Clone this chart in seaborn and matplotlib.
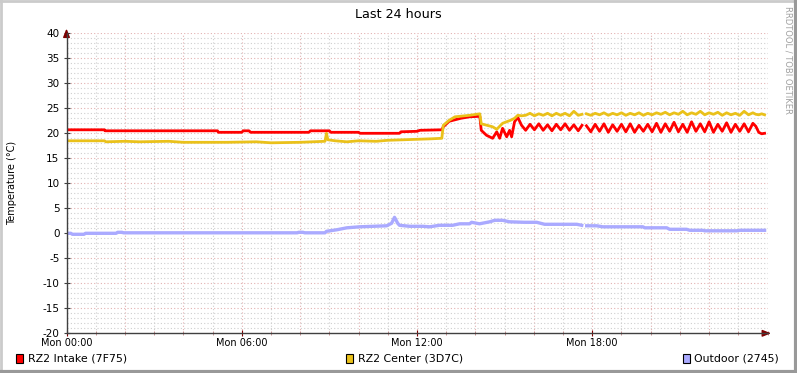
import matplotlib
matplotlib.use('Agg')
import matplotlib.pyplot as plt
import matplotlib.ticker as mticker
from matplotlib.patches import Rectangle
from matplotlib.lines import Line2D
import seaborn as sns
import numpy as np
import pandas as pd

# hours since Mon 00:00 (nan = gap in the data)
intake_hours = [0, 1.3, 1.32, 5.17, 5.2, 6.0, 6.05, 6.25, 6.3, 8.3, 8.35, 9.0, 9.05, 10.0, 10.05,
                11.4, 11.45, 12.0, 12.1, 12.85, 12.9, 13.1, 13.5, 13.8, 14.15, 14.2, 14.38, 14.59,
                14.73, 14.83, 14.93, 15.07, 15.17, 15.24, 15.34, 15.45, 15.58,
                15.72, 15.87, 16.02, 16.17, 16.32, 16.47, 16.62, 16.77, 16.92, 17.07, 17.22, 17.37,
                17.52, 17.65, 17.72,
                17.8, 17.95, 18.1, 18.25, 18.4, 18.55, 18.7, 18.85, 19.0, 19.15, 19.3, 19.45, 19.6,
                19.75, 19.9, 20.05, 20.2, 20.35, 20.5, 20.65, 20.8, 20.95, 21.1, 21.25, 21.4, 21.55,
                21.7, 21.85, 22.0, 22.15, 22.3, 22.45, 22.6, 22.75, 22.9, 23.05, 23.2, 23.35, 23.5,
                23.6, 23.7, 23.8, 23.9]
intake_temp = [20.7, 20.7, 20.5, 20.5, 20.2, 20.2, 20.5, 20.5, 20.2, 20.2, 20.5, 20.5, 20.2, 20.2, 20.0,
               20.0, 20.3, 20.4, 20.6, 20.7, 21.3, 22.4, 23.0, 23.3, 23.4, 20.6, 19.6, 19.0,
               20.3, 19.0, 21.0, 19.3, 20.6, 19.3, 22.3, 23.2, 21.6,
               20.6, 21.8, 20.7, 21.9, 20.6, 21.7, 20.5, 21.8, 20.7, 21.9, 20.6, 21.7,
               20.5, 21.6, np.nan,
               21.5, 20.3, 21.8, 20.4, 21.9, 20.2, 21.7, 20.4, 21.8, 20.3, 21.9, 20.2, 21.6,
               20.4, 21.8, 20.3, 22.0, 20.2, 21.9, 20.4, 22.2, 20.3, 21.8, 20.2, 22.3, 20.4,
               21.9, 20.3, 22.3, 20.2, 21.8, 20.4, 22.1, 20.2, 21.8, 20.4, 21.9, 20.3, 22.0,
               21.4, 20.2, 19.9, 20.0]

center_hours = [0, 1.3, 1.35, 2.0, 2.5, 3.5, 4.0, 5.5, 6.5, 7.0, 8.0, 8.85, 8.9, 8.95, 9.2, 9.6,
                10.0, 10.6, 11.0, 11.5, 12.0, 12.5, 12.85, 12.9, 13.1, 13.3, 13.8, 14.15, 14.2,
                14.59, 14.73, 14.93, 15.2, 15.34, 15.45, 15.58,
                15.72, 15.87, 16.02, 16.17, 16.32, 16.47, 16.62, 16.77, 16.92, 17.07, 17.22, 17.37,
                17.52, 17.65, 17.72,
                17.8, 17.95, 18.1, 18.25, 18.4, 18.55, 18.7, 18.85, 19.0, 19.15, 19.3, 19.45, 19.6,
                19.75, 19.9, 20.05, 20.2, 20.35, 20.5, 20.65, 20.8, 20.95, 21.1, 21.25, 21.4, 21.55,
                21.7, 21.85, 22.0, 22.15, 22.3, 22.45, 22.6, 22.75, 22.9, 23.05, 23.2, 23.35, 23.5,
                23.6, 23.7, 23.8, 23.9]
center_temp = [18.5, 18.5, 18.3, 18.4, 18.3, 18.4, 18.2, 18.2, 18.3, 18.1, 18.2, 18.4, 20.0, 18.7, 18.5, 18.3,
               18.5, 18.4, 18.6, 18.7, 18.8, 18.9, 19.0, 21.6, 22.6, 23.3, 23.6, 23.9, 21.9,
               21.3, 20.8, 22.0, 22.6, 23.0, 23.6, 23.5,
               23.6, 24.0, 23.5, 23.9, 23.6, 24.0, 23.5, 24.0, 23.6, 24.0, 23.5, 24.4,
               23.6, 23.8, np.nan,
               23.9, 23.6, 24.0, 23.7, 24.1, 23.6, 24.0, 23.7, 24.1, 23.6, 24.0, 23.7, 24.1,
               23.6, 24.0, 23.7, 24.1, 23.8, 24.2, 23.7, 24.1, 23.8, 24.4, 23.7, 24.1, 23.8,
               24.4, 23.7, 24.1, 23.8, 24.2, 23.6, 24.1, 23.7, 24.0, 23.6, 24.4, 23.7, 24.1,
               23.8, 23.7, 23.9, 23.7]

outdoor_hours = [0, 0.15, 0.2, 0.6, 0.65, 1.7, 1.75, 1.9, 1.95, 7.9, 7.95, 8.1, 8.15, 8.85,
                 8.9, 9.25, 9.6, 10.03, 10.96, 11.13, 11.23, 11.34, 11.4, 11.75, 12.2, 12.43,
                 12.77, 13.22, 13.46, 13.8, 13.87, 14.14, 14.49, 14.66, 14.93, 15.17, 15.68,
                 16.1, 16.37, 17.47, 17.64, 17.72,
                 17.81, 18.15, 18.36, 19.73, 19.8, 20.55, 20.65, 21.23, 21.34, 21.78, 21.85,
                 22.95, 23.05, 23.9]
outdoor_temp = [0.0, 0.0, -0.2, -0.2, 0.0, 0.0, 0.2, 0.2, 0.1, 0.1, 0.2, 0.2, 0.1, 0.1,
                0.4, 0.7, 1.1, 1.3, 1.5, 2.0, 3.2, 2.0, 1.6, 1.4, 1.4, 1.3,
                1.6, 1.6, 1.9, 1.9, 2.2, 1.9, 2.3, 2.6, 2.6, 2.3, 2.2,
                2.2, 1.8, 1.8, 1.6, np.nan,
                1.5, 1.5, 1.3, 1.3, 1.1, 1.1, 0.8, 0.8, 0.6, 0.6, 0.5,
                0.5, 0.6, 0.6]

series_names = ['RZ2 Intake (7F75)', 'RZ2 Center (3D7C)', 'Outdoor (2745)']
series_colors = ['#FF0000', '#EAC11A', '#AAAAFF']
hour_ticks = [0, 6, 12, 18]
hour_labels = ['Mon 00:00', 'Mon 06:00', 'Mon 12:00', 'Mon 18:00']

W, H = 797, 373
fig = plt.figure(figsize=(W / 100, H / 100), dpi=100, facecolor='white')
plt.rcParams['font.family'] = ['DejaVu Sans']
plt.rcParams['axes.unicode_minus'] = False

# plot area in pixels: x 66.5..767.5, y 33.3..333.3
ax = fig.add_axes([66.5 / W, (H - 333.3) / H, 701 / W, 300 / H])
ax.set_facecolor('white')

all_series = [(intake_hours, intake_temp), (center_hours, center_temp), (outdoor_hours, outdoor_temp)]
widths = [2.0, 2.0, 2.4]
for (hrs, vals), name, col, lw in zip(all_series, series_names, series_colors, widths):
    df = pd.DataFrame({'hour': hrs, 'temp': vals})
    df['seg'] = df['temp'].isna().cumsum()
    df = df.dropna()
    sns.lineplot(data=df, x='hour', y='temp', units='seg', estimator=None,
                 color=col, lw=lw, ax=ax, legend=False, zorder=3)

ax.set_xlim(0, 24)
ax.set_ylim(-20, 40)

# grids
ax.xaxis.set_major_locator(mticker.FixedLocator(hour_ticks))
ax.xaxis.set_minor_locator(mticker.MultipleLocator(1))
ax.yaxis.set_major_locator(mticker.MultipleLocator(5))
ax.yaxis.set_minor_locator(mticker.MultipleLocator(1))
for v in np.arange(1, 24):
    c = '#E3B1B1' if v % 2 == 0 else '#CFCFCF'
    ax.axvline(v, color=c, lw=0.8, ls=(0, (1, 2)), zorder=1)
for v in np.arange(-19, 41):
    c = '#E3B1B1' if v % 5 == 0 else '#CFCFCF'
    ax.axhline(v, color=c, lw=0.8, ls=(0, (1, 2)), zorder=1)

ax.set_xticklabels(hour_labels)
ax.tick_params(axis='x', which='major', labelsize=7, length=4, direction='inout', color='#7F0000', pad=1.5)
ax.tick_params(axis='x', which='minor', length=3, direction='inout', color='#C08080')
ax.tick_params(axis='y', which='major', labelsize=7.5, length=4, direction='inout', color='#404040', pad=3)
ax.tick_params(axis='y', which='minor', length=0)
ax.set_xlabel('')
ax.set_ylabel('')

for s in ['top', 'right']:
    ax.spines[s].set_visible(False)
for s in ['left', 'bottom']:
    ax.spines[s].set_color('#404040')
    ax.spines[s].set_linewidth(1)
    ax.spines[s].set_zorder(4)

# axis arrows
ax.annotate('', xy=(0, 1.025), xytext=(0, 0.99), xycoords='axes fraction',
            arrowprops=dict(arrowstyle='-|>,head_length=0.5,head_width=0.2', color='#7F0000', lw=1))
ax.annotate('', xy=(1.009, 0), xytext=(0.99, 0), xycoords='axes fraction',
            arrowprops=dict(arrowstyle='-|>,head_length=0.5,head_width=0.2', color='#7F0000', lw=1))

fig.text(398 / W, 1 - 14 / H, 'Last 24 hours', ha='center', va='center', fontsize=9.2)
fig.text(12 / W, 1 - 183 / H, 'Temperature (°C)', ha='center', va='center', rotation=90, fontsize=7)
fig.text(788 / W, 1 - 6 / H, 'RRDTOOL / TOBI OETIKER', ha='center', va='top', rotation=270,
         fontsize=6, color='#A0A0A0')

# legend
legend_x = [16, 345.5, 682.5]
for x0, name, col in zip(legend_x, series_names, series_colors):
    fig.patches.append(Rectangle((x0 / W, 1 - 362.5 / H), 7.5 / W, 8.5 / H, transform=fig.transFigure,
                                 facecolor=col, edgecolor='black', lw=0.8))
    fig.text((x0 + 12) / W, 1 - 358.5 / H, name, ha='left', va='center', fontsize=7.9)

# 3d border
fig.add_artist(Line2D([0, 1], [1 - 1 / H, 1 - 1 / H], transform=fig.transFigure, color='#CBCBCB', lw=2))
fig.add_artist(Line2D([1 / W, 1 / W], [0, 1], transform=fig.transFigure, color='#CBCBCB', lw=2))
fig.add_artist(Line2D([0, 1], [1.5 / H, 1.5 / H], transform=fig.transFigure, color='#999999', lw=3))
fig.add_artist(Line2D([1 - 1.5 / W, 1 - 1.5 / W], [0, 1], transform=fig.transFigure, color='#999999', lw=3))

fig.savefig('out.png', dpi=100, facecolor='white')
